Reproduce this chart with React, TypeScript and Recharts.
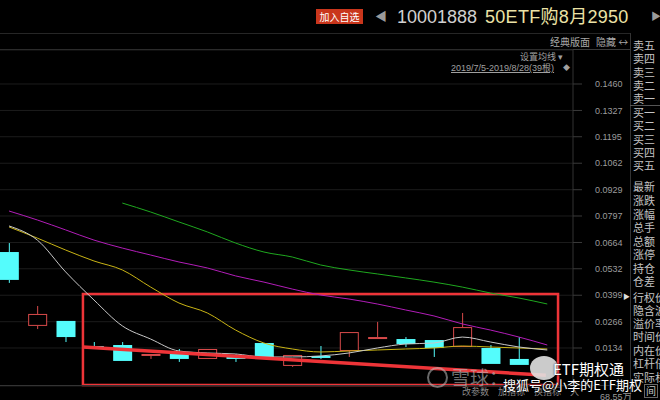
import React from 'react';
import { ComposedChart, Bar, Line, XAxis, YAxis, CartesianGrid, ReferenceArea, ReferenceLine } from 'recharts';

// ---- data ----
const barIndex = [0, 1, 2, 3, 4, 5, 6, 7, 8, 9, 10, 11, 12, 13, 14, 15, 16, 17, 18, 19];
const opens = [0.0616, 0.0245, 0.0270, 0.0144, 0.0149, 0.0094, 0.0114, 0.0079, 0.0089, 0.0159, 0.0044, 0.0094, 0.0119, 0.0179, 0.0179, 0.0174, 0.0139, 0.0134, 0.0079, null];
const closes = [0.0476, 0.0305, 0.0189, 0.0134, 0.0069, 0.0104, 0.0079, 0.0129, 0.0079, 0.0089, 0.0099, 0.0084, 0.0214, 0.0189, 0.0154, 0.0134, 0.0239, 0.0054, 0.0049, null];
const highs = [0.0661, 0.0345, 0.0270, 0.0164, 0.0164, 0.0104, 0.0129, 0.0129, 0.0104, 0.0159, 0.0099, 0.0144, 0.0214, 0.0265, 0.0189, 0.0174, 0.0310, 0.0149, 0.0189, null];
const lows = [0.0461, 0.0229, 0.0164, 0.0129, 0.0069, 0.0079, 0.0064, 0.0079, 0.0064, 0.0089, 0.0039, 0.0079, 0.0089, 0.0179, 0.0139, 0.0089, 0.0139, 0.0054, 0.0049, null];
const ma5 = [0.0747, 0.0676, 0.0516, 0.0375, 0.0245, 0.0179, 0.0119, 0.0109, 0.0104, 0.0089, 0.0089, 0.0094, 0.0109, 0.0134, 0.0154, 0.0159, 0.0189, 0.0164, 0.0139, 0.0124];
const ma10 = [0.0742, 0.0686, 0.0626, 0.0571, 0.0526, 0.0440, 0.0360, 0.0310, 0.0224, 0.0159, 0.0129, 0.0114, 0.0119, 0.0124, 0.0129, 0.0134, 0.0144, 0.0139, 0.0134, 0.0129];
const ma20 = [0.0822, 0.0777, 0.0727, 0.0676, 0.0636, 0.0601, 0.0566, 0.0536, 0.0496, 0.0465, 0.0430, 0.0400, 0.0380, 0.0355, 0.0325, 0.0295, 0.0255, 0.0224, 0.0189, 0.0149];
const ma30 = [null, null, null, null, 0.0862, 0.0817, 0.0767, 0.0717, 0.0661, 0.0616, 0.0591, 0.0551, 0.0526, 0.0506, 0.0486, 0.0465, 0.0440, 0.0410, 0.0385, 0.0355];
const yTickLabels = ['0.0134', '0.0266', '0.0399', '0.0532', '0.0664', '0.0797', '0.0929', '0.1062', '0.1195', '0.1327', '0.1460'];

const sellLabels = ['卖五', '卖四', '卖三', '卖二', '卖一'];
const buyLabels = ['买一', '买二', '买三', '买四', '买五'];
const quoteLabels = ['最新', '涨跌', '涨幅', '总手', '总额', '涨停', '持仓', '仓差'];
const optionLabels = ['行权价', '隐含波', '溢价率', '时间价', '内在价', '杠杆倍', '实际杠'];

// annotation (drawn by hand on the original screenshot), in data coordinates
const boxX = [2.61, 19.38];
const boxY = [-0.0052, 0.0405];
const arrowFrom = { x: 2.61, y: 0.0139 };
const arrowTo = { x: 18.95, y: -0.0003 };

const data = barIndex.map((i, k) => ({
  i,
  open: opens[k],
  close: closes[k],
  high: highs[k],
  low: lows[k],
  range: lows[k] == null ? null : [lows[k], highs[k]],
  ma5: ma5[k],
  ma10: ma10[k],
  ma20: ma20[k],
  ma30: ma30[k],
}));
const yTicks = yTickLabels.map(Number);

const CYAN = '#54fcfc';
const RED = '#d84a4a';
const ANNO = '#ee3438';
const FONT = '"Liberation Sans", "Noto Sans CJK SC", sans-serif';
const CJK = '"Noto Sans CJK SC", "Liberation Sans", sans-serif';

const Candle = (props: any) => {
  const { x, y, width, height, payload } = props;
  if (!payload || payload.open == null || payload.high === payload.low) return null;
  const { open, close, high, low } = payload;
  const top = Math.min(y, y + height);
  const bot = Math.max(y, y + height);
  const ratio = (bot - top) / (high - low);
  const py = (v: number) => bot - (v - low) * ratio;
  const up = close > open;
  const color = up ? RED : CYAN;
  const bTop = py(Math.max(open, close));
  const bBot = py(Math.min(open, close));
  const bh = Math.max(bBot - bTop, 1.5);
  const cx = x + width / 2;
  return (
    <g>
      <line x1={cx} x2={cx} y1={top} y2={bTop} stroke={color} strokeWidth={1} />
      <line x1={cx} x2={cx} y1={bTop + bh} y2={bot} stroke={color} strokeWidth={1} />
      {up ? (
        <rect x={x + 0.5} y={bTop + 0.5} width={width - 1} height={Math.max(bh - 1, 0.8)} fill="#000" stroke={color} strokeWidth={1} />
      ) : (
        <rect x={x} y={bTop} width={width} height={bh} fill={color} />
      )}
    </g>
  );
};

const abs = (left: number, top: number, extra: any = {}) => ({ position: 'absolute' as const, left, top, whiteSpace: 'nowrap' as const, ...extra });

export default function App() {
  const rightItems: { t: string; y: number }[] = [];
  const sellY = [45, 58, 72, 85, 98];
  const buyY = [112, 125, 139, 152, 165];
  const quoteY = [186, 200, 214, 227, 241, 254, 268, 281];
  const optY = [297, 310, 323, 336, 350, 363, 377];
  sellLabels.forEach((t, k) => rightItems.push({ t, y: sellY[k] }));
  buyLabels.forEach((t, k) => rightItems.push({ t, y: buyY[k] }));
  quoteLabels.forEach((t, k) => rightItems.push({ t, y: quoteY[k] }));
  optionLabels.forEach((t, k) => rightItems.push({ t, y: optY[k] }));

  return (
    <div style={{ position: 'fixed', left: 0, top: 0, width: 660, height: 400, background: '#000', overflow: 'hidden', fontFamily: FONT }}>
      {/* header */}
      <div style={abs(316, 9, { width: 47, height: 15, background: '#c9361c', color: '#fff', fontSize: 10, lineHeight: '15px', textAlign: 'center', fontFamily: CJK })}>加入自选</div>
      <div style={abs(375, 8, { color: '#9a9a9a', fontSize: 12, lineHeight: '18px' })}>◀</div>
      <div style={abs(397, 6, { color: '#d0d0d0', fontSize: 18, lineHeight: '22px' })}>10001888</div>
      <div style={abs(485, 6, { color: '#ece3a6', fontSize: 18, lineHeight: '22px', fontFamily: FONT, letterSpacing: 0.3 })}>50ETF购8月2950</div>
      <div style={abs(651, 8, { color: '#9a9a9a', fontSize: 10, lineHeight: '18px' })}>▶</div>
      <div style={abs(0, 33, { width: 630, height: 1, background: '#262626' })} />
      <div style={abs(0, 49, { width: 630, height: 1, background: '#3a3a3a' })} />
      <div style={abs(630, 33, { width: 1, height: 367, background: '#333' })} />
      <div style={abs(550, 35, { color: '#a8a8a8', fontSize: 10, lineHeight: '14px', fontFamily: CJK })}>经典版面</div>
      <div style={abs(596, 35, { color: '#a8a8a8', fontSize: 10, lineHeight: '14px', fontFamily: CJK })}>隐藏 ↔</div>
      <div style={abs(520, 50, { color: '#a0a0a0', fontSize: 9, lineHeight: '13px', fontFamily: CJK })}>设置均线 ▾</div>
      <div style={abs(451, 62, { color: '#a0a0a0', fontSize: 9, lineHeight: '12px', textDecoration: 'underline', fontFamily: FONT })}>2019/7/5-2019/8/28(39根)</div>
      <div style={abs(563, 62, { color: '#a0a0a0', fontSize: 7, lineHeight: '12px' })}>◆</div>

      {/* chart */}
      <div style={abs(0, 0)}>
        <ComposedChart width={640} height={400} data={data} margin={{ top: 50, right: 0, bottom: 14, left: 0 }}>
          <CartesianGrid vertical={false} stroke="#1c1c1c" />
          <XAxis type="number" dataKey="i" domain={[-0.3177, 19.908]} allowDataOverflow hide />
          <YAxis
            orientation="right"
            type="number"
            domain={[-0.005686, 0.16307]}
            allowDataOverflow
            ticks={yTicks}
            interval={0}
            tickFormatter={(v: number) => yTickLabels[yTicks.indexOf(v)] ?? String(v)}
            width={67}
            axisLine={{ stroke: '#333' }}
            tickLine={{ stroke: '#3a3a3a' }}
            tickSize={9}
            tickMargin={13}
            tick={{ fill: '#9c9c9c', fontSize: 9, fontFamily: 'Liberation Sans' }}
          />
          <Bar dataKey="range" barSize={19} isAnimationActive={false} shape={(p: any) => <Candle {...p} />} />
          <Line type="monotone" dataKey="ma30" stroke="#1fa81f" strokeWidth={1} dot={false} isAnimationActive={false} connectNulls={false} />
          <Line type="monotone" dataKey="ma20" stroke="#b21db8" strokeWidth={1} dot={false} isAnimationActive={false} />
          <Line type="monotone" dataKey="ma10" stroke="#c9b415" strokeWidth={1} dot={false} isAnimationActive={false} />
          <Line type="monotone" dataKey="ma5" stroke="#c8c8c8" strokeWidth={1} dot={false} isAnimationActive={false} />
          <ReferenceArea x1={boxX[0]} x2={boxX[1]} y1={boxY[0]} y2={boxY[1]} stroke={ANNO} strokeWidth={2.5} fill="none" fillOpacity={0} ifOverflow="visible" />
          <ReferenceLine segment={[arrowFrom, arrowTo]} stroke={ANNO} strokeWidth={3.5} ifOverflow="visible" />
        </ComposedChart>
      </div>
      <div style={abs(0, 385, { width: 630, height: 1, background: '#333' })} />

      {/* right panel */}
      {rightItems.map((it) => (
        <div key={it.t} style={abs(633, it.y - 6, { color: '#c4c4c4', fontSize: 11, lineHeight: '12px', fontFamily: CJK })}>{it.t}</div>
      ))}
      <div style={abs(630, 105, { width: 30, height: 1, background: '#555' })} />
      <div style={abs(644, 384, { color: '#c4c4c4', fontSize: 10, lineHeight: '12px', border: '1px solid #666', padding: '0 1px', fontFamily: CJK })}>间</div>
      <div style={abs(623, 292, { color: '#ddd', fontSize: 7, lineHeight: '10px' })}>▶</div>

      {/* bottom strip */}
      <div style={abs(462, 386, { color: '#8a8a8a', fontSize: 9, lineHeight: '12px', fontFamily: CJK })}>改参数　加指标　换指标　入</div>
      <div style={abs(600, 391, { color: '#9a9a9a', fontSize: 9, lineHeight: '12px' })}>68.55万</div>

      {/* watermarks */}
      <div style={abs(427, 367, { width: 17, height: 17, borderRadius: '50%', border: '2px solid rgba(190,190,190,0.55)' })} />
      <div style={abs(451, 365, { color: 'rgba(190,190,190,0.6)', fontSize: 19, lineHeight: '24px', fontFamily: CJK })}>雪球：</div>
      <div style={abs(530, 356, { width: 28, height: 24, borderRadius: '50%', background: 'rgba(225,225,225,0.9)' })} />
      <div style={abs(553, 360, { color: '#fff', fontSize: 15, lineHeight: '18px', fontFamily: CJK, textShadow: '0 0 2px #000' })}>ETF期权通</div>
      <div style={abs(503, 377, { color: '#fff', fontSize: 13, lineHeight: '16px', fontFamily: CJK, textShadow: '0 0 2px #000, 0 0 2px #000' })}>搜狐号@小李的ETF期权</div>
    </div>
  );
}
